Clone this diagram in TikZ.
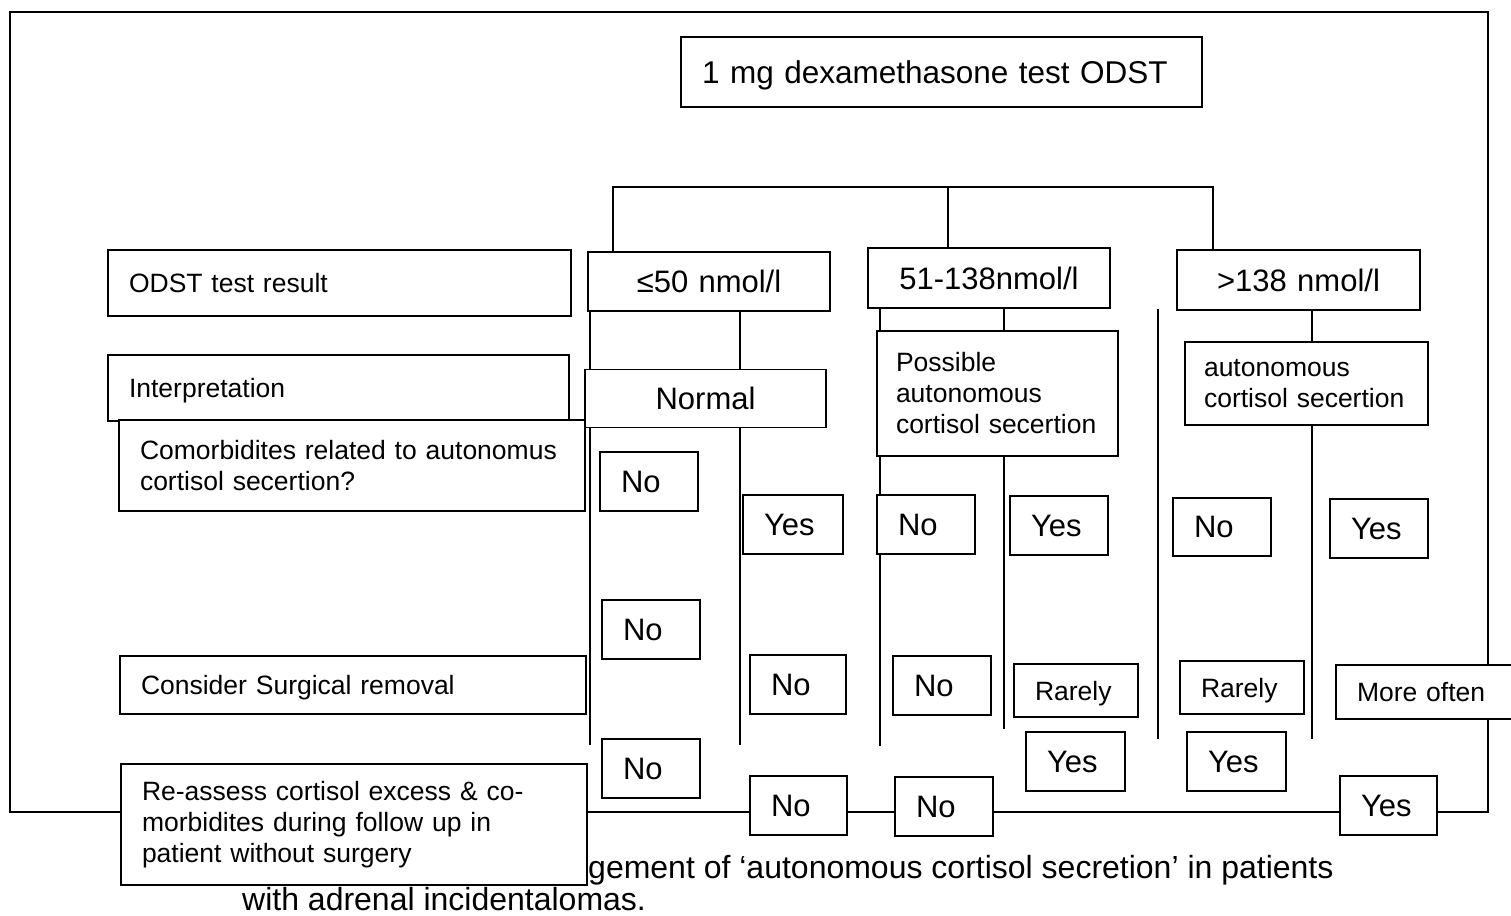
\documentclass[tikz,border=0pt]{standalone}
\usepackage{fontspec}
\setmainfont{Liberation Sans}
\usetikzlibrary{backgrounds}
\tikzset{
  box/.style={draw, fill=white, line width=1.8pt, inner xsep=21pt, inner ysep=0pt, align=left},
  midbox/.style={box, align=center},
  oneline/.style={text depth=0pt},
  bigtxt/.style={font=\fontsize{31}{36}\selectfont, oneline},
  smalltxt/.style={font=\fontsize{26.5}{31}\selectfont},
  captxt/.style={font=\fontsize{32}{32}\selectfont, inner sep=0pt, anchor=base west},
  link/.style={line width=1.4pt}
}
\begin{document}
\begin{tikzpicture}[x=1pt,y=-1pt]
\useasboundingbox (0,0) rectangle (1511,915);
\node[box,oneline,font=\fontsize{31.5}{36}\selectfont,text width=479pt,minimum height=70pt] (title) at (941.5,72) {1 mg dexamethasone test ODST};
\node[box,smalltxt,oneline,text width=421pt,minimum height=66pt] (res) at (339.5,283) {ODST test result};
\node[box,smalltxt,oneline,text width=419pt,minimum height=66pt] (interp) at (338.5,388) {Interpretation};
\node[box,smalltxt,text width=424pt,minimum height=91pt] (comorb) at (352,465.5) {Comorbidites related to autonomus\\cortisol secertion?};
\node[box,smalltxt,oneline,text width=424pt,minimum height=58pt] (surg) at (353,685) {Consider Surgical removal};
\node[box,smalltxt,text width=424pt,minimum height=121pt] (reass) at (354,824.5) {Re-assess cortisol excess \& co-\\morbidites during follow up in\\patient without surgery};
\node[midbox,bigtxt,text width=200pt,minimum height=59pt] (lo) at (709,281.5) {≤50 nmol/l};
\node[midbox,bigtxt,text width=200pt,minimum height=60pt] (mid) at (989,278) {51-138nmol/l};
\node[midbox,bigtxt,text width=201pt,minimum height=60pt] (hi) at (1298.5,280) {>138 nmol/l};
\node[midbox,bigtxt,text width=199pt,minimum height=58pt] (normal) at (705.5,398.5) {Normal};
\node[box,smalltxt,inner xsep=19pt,text width=203pt,minimum height=125pt] (poss) at (997.5,393.5) {Possible\\autonomous\\\mbox{cortisol secertion}};
\node[box,smalltxt,inner xsep=19pt,text width=205pt,minimum height=83pt] (acs) at (1306.5,383.5) {autonomous\\\mbox{cortisol secertion}};
\node[box,bigtxt,text width=56pt,minimum height=59pt] (no11) at (649,481.5) {No};
\node[box,bigtxt,text width=58pt,minimum height=59pt] (yes21) at (793,524.5) {Yes};
\node[box,bigtxt,text width=56pt,minimum height=59pt] (no31) at (926,524.5) {No};
\node[box,bigtxt,text width=56pt,minimum height=59pt] (yes41) at (1059,525.5) {Yes};
\node[box,bigtxt,text width=56pt,minimum height=58pt] (no51) at (1222,527) {No};
\node[box,bigtxt,text width=56pt,minimum height=59pt] (yes61) at (1379,528.5) {Yes};
\node[box,bigtxt,text width=56pt,minimum height=59pt] (no12) at (651,629.5) {No};
\node[box,bigtxt,text width=54pt,minimum height=59pt] (no22) at (798,684.5) {No};
\node[box,bigtxt,text width=56pt,minimum height=59pt] (no32) at (942,685.5) {No};
\node[box,smalltxt,oneline,text width=82pt,minimum height=53pt] (rare42) at (1076,690.5) {Rarely};
\node[box,smalltxt,oneline,text width=82pt,minimum height=53pt] (rare52) at (1242,687.5) {Rarely};
\node[box,smalltxt,oneline,text width=153pt,minimum height=54pt] (more) at (1433.5,692) {More often};
\node[box,bigtxt,text width=56pt,minimum height=59pt] (no13) at (651,768.5) {No};
\node[box,bigtxt,text width=55pt,minimum height=59pt] (no23) at (798.5,805.5) {No};
\node[box,bigtxt,text width=56pt,minimum height=59pt] (no33) at (944,806.5) {No};
\node[box,bigtxt,text width=57pt,minimum height=59pt] (yes43) at (1075.5,761.5) {Yes};
\node[box,bigtxt,text width=57pt,minimum height=59pt] (yes53) at (1236.5,761.5) {Yes};
\node[box,bigtxt,text width=55pt,minimum height=59pt] (yes63) at (1388.5,805.5) {Yes};
\begin{scope}[on background layer]
\draw[line width=1.5pt] (10,12) rectangle (1488,812);
\node[captxt] (cap1) at (588,878) {gement of ‘autonomous cortisol secretion’ in patients};
\node[captxt] (cap2) at (242,910) {with adrenal incidentalomas.};
\coordinate (t1) at (613,187);
\coordinate (t2) at (948,187);
\coordinate (t3) at (1213,187);
\coordinate (a1) at (590,745);
\coordinate (a2) at (740,745);
\coordinate (b1) at (880,746);
\coordinate (b2) at (1004,729);
\coordinate (c1) at (1158,309);
\coordinate (c2) at (1158,739);
\coordinate (d1) at (1312,739);
\draw[link] (lo.north -| t1) -- (t1) -- (t3) -- (hi.north -| t3);
\draw[link] (t2) -- (mid.north -| t2);
\draw[link] (lo.south -| a1) -- (normal.north -| a1);
\draw[link] (lo.south -| a2) -- (normal.north -| a2);
\draw[link] (normal.south -| a1) -- (a1);
\draw[link] (normal.south -| a2) -- (a2);
\draw[link] (mid.south -| b1) -- (poss.north -| b1);
\draw[link] (mid.south -| b2) -- (poss.north -| b2);
\draw[link] (poss.south -| b1) -- (b1);
\draw[link] (poss.south -| b2) -- (b2);
\draw[link] (c1) -- (c2);
\draw[link] (hi.south -| d1) -- (acs.north -| d1);
\draw[link] (acs.south -| d1) -- (d1);
\end{scope}
\end{tikzpicture}
\end{document}
